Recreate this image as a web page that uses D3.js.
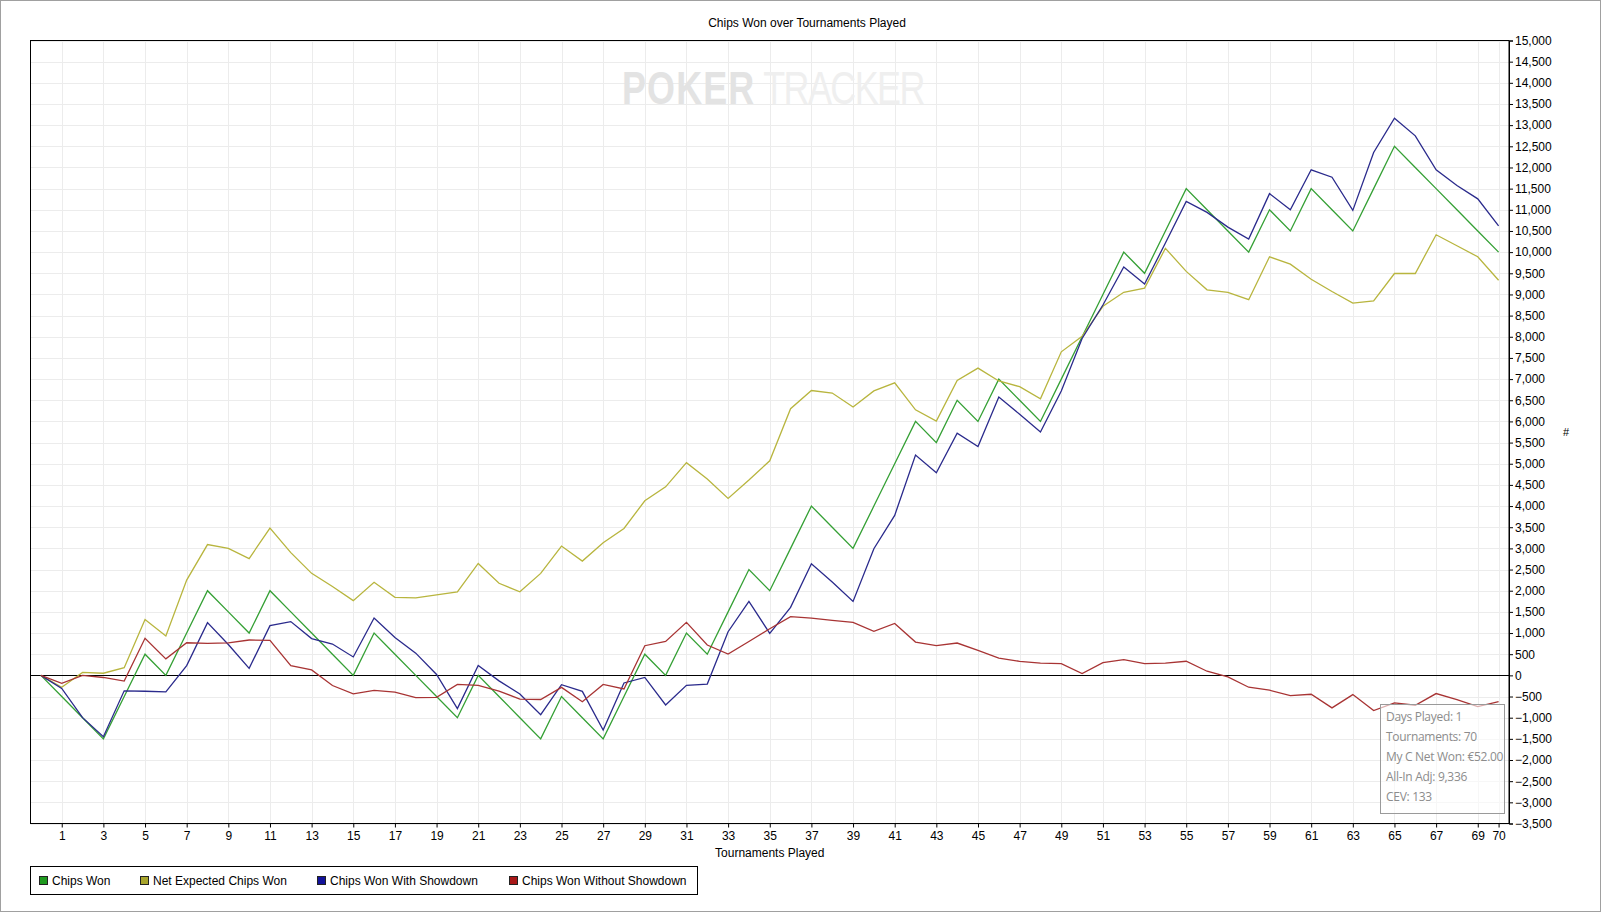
<!DOCTYPE html>
<html>
<head>
<meta charset="utf-8">
<script src="https://cdn.jsdelivr.net/npm/d3@7"></script>
<style>
  html, body { margin: 0; padding: 0; background: #fff; }
  svg { display: block; font-family: "Liberation Sans", Arial, sans-serif; }
</style>
</head>
<body>
<svg id="chart" width="1602" height="914"></svg>
<script>
// ---------- DATA ----------
const tournaments = d3.range(0, 71);
const chipsWon = [0,-500,-1000,-1500,-500,500,0,1000,2000,1500,1000,2000,1500,1000,500,0,1000,500,0,-500,-1000,0,-500,-1000,-1500,-500,-1000,-1500,-500,500,0,1000,500,1500,2500,2000,3000,4000,3500,3000,4000,5000,6000,5500,6500,6000,7000,6500,6000,7000,8000,9000,10000,9500,10500,11500,11000,10500,10000,11000,10500,11500,11000,10500,11500,12500,12000,11500,11000,10500,10000];
const netExpected = [0,-280,70,50,180,1320,930,2250,3090,3000,2760,3480,2900,2410,2100,1765,2200,1845,1830,1900,1975,2645,2175,1975,2410,3055,2700,3135,3470,4125,4455,5025,4640,4180,4615,5070,6300,6730,6670,6340,6720,6910,6275,6010,6970,7260,6955,6820,6535,7645,8010,8720,9050,9150,10090,9545,9110,9050,8875,9890,9715,9360,9070,8795,8850,9495,9495,10410,10150,9890,9336];
const wonWithShowdown = [0,-310,-1000,-1450,-365,-375,-390,230,1245,730,165,1175,1270,870,740,435,1354,895,525,20,-785,235,-130,-440,-930,-220,-378,-1291,-180,-50,-700,-236,-205,1031,1748,992,1606,2638,2205,1748,2992,3780,5205,4787,5724,5409,6575,6170,5751,6720,7960,8750,9647,9246,10214,11198,10938,10591,10308,11382,11000,11945,11771,10986,12355,13165,12748,11945,11574,11259,10620];
const wonWithoutShowdown = [0,-190,0,-50,-135,875,390,770,755,770,835,825,230,130,-240,-435,-354,-395,-525,-520,-215,-235,-370,-560,-570,-283,-622,-213,-320,700,800,1252,717,504,800,1100,1386,1354,1299,1252,1039,1228,787,701,764,591,409,331,287,279,43,300,373,279,287,334,98,-37,-280,-351,-477,-446,-768,-454,-831,-650,-706,-430,-572,-737,-620];

const seriesNames = ["Chips Won", "Net Expected Chips Won", "Chips Won With Showdown", "Chips Won Without Showdown"];
const lineColors = ["#35a035", "#b8b53e", "#2a2a8c", "#a83434"];
const legendColors = ["#1f9a1f", "#a8a52c", "#12129a", "#a81818"];
const xTickValues = d3.range(1, 70, 2).concat([70]);
const yTickValues = d3.range(-3500, 15001, 500);
const tooltipLines = ["Days Played: 1", "Tournaments: 70", "My C Net Won: €52.00", "All-In Adj: 9,336", "CEV: 133"];

// ---------- LAYOUT ----------
const svg = d3.select("#chart");
const pLeft = 30.5, pRight = 1509, pTop = 40.5, pBottom = 823.5;

const x = d3.scaleLinear().domain([-0.5, 70.5]).range([pLeft, pRight]);
const y = d3.scaleLinear().domain([-3500, 15000]).range([pBottom, pTop]);

// outer frame
svg.append("rect").attr("x", 0.5).attr("y", 0.5).attr("width", 1600).attr("height", 911)
  .attr("fill", "#fff").attr("stroke", "#a0a0a0");

// title
svg.append("text").attr("x", 807).attr("y", 26.5).attr("text-anchor", "middle")
  .attr("font-size", 12).attr("fill", "#000").text("Chips Won over Tournaments Played");

// grid
const grid = svg.append("g");
grid.selectAll("line.h").data(yTickValues).join("line")
  .attr("x1", pLeft).attr("x2", pRight)
  .attr("y1", d => Math.round(y(d)) + 0.5).attr("y2", d => Math.round(y(d)) + 0.5)
  .attr("stroke", "#ececec").attr("stroke-width", 1);
grid.selectAll("line.v").data(xTickValues).join("line")
  .attr("y1", pTop).attr("y2", pBottom)
  .attr("x1", d => Math.round(x(d)) + 0.5).attr("x2", d => Math.round(x(d)) + 0.5)
  .attr("stroke", "#ececec").attr("stroke-width", 1);

// watermark (single text, horizontally condensed)
const wm = svg.append("text").attr("transform", "translate(622,104) scale(0.78,1)")
  .attr("font-size", 46);
wm.append("tspan").attr("font-weight", "bold").attr("fill", "#e3e3e3")
  .attr("letter-spacing", 1.5).text("POKER");
wm.append("tspan").attr("dx", 10).attr("font-weight", "normal").attr("fill", "#efefef")
  .attr("letter-spacing", -2).text("TRACKER");

// zero line
svg.append("line").attr("x1", pLeft).attr("x2", pRight)
  .attr("y1", Math.round(y(0)) + 0.5).attr("y2", Math.round(y(0)) + 0.5)
  .attr("stroke", "#000").attr("stroke-width", 1);

// lines
const allSeries = [chipsWon, netExpected, wonWithShowdown, wonWithoutShowdown];
const lineGen = d3.line().x((d, i) => x(tournaments[i])).y(d => y(d));
svg.append("g").selectAll("path").data(allSeries).join("path")
  .attr("d", d => lineGen(d)).attr("fill", "none")
  .attr("stroke", (d, i) => lineColors[i]).attr("stroke-width", 1.3)
  .attr("stroke-linejoin", "miter");

// plot frame
svg.append("rect").attr("x", pLeft).attr("y", pTop).attr("width", pRight - pLeft).attr("height", pBottom - pTop)
  .attr("fill", "none").attr("stroke", "#000").attr("stroke-width", 1);

// axes
const yAxis = svg.append("g").attr("transform", `translate(${pRight},0)`)
  .call(d3.axisRight(y).tickValues(yTickValues).tickFormat(d3.format(",")).tickSize(4).tickPadding(2));
yAxis.select(".domain").attr("stroke", "#000");
yAxis.selectAll("text").attr("font-size", 12).attr("font-family", "Liberation Sans, Arial, sans-serif").attr("fill", "#000");

const xAxis = svg.append("g").attr("transform", `translate(0,${pBottom})`)
  .call(d3.axisBottom(x).tickValues(xTickValues).tickFormat(d3.format("d")).tickSize(4).tickPadding(4));
xAxis.select(".domain").remove();
xAxis.selectAll("text").attr("font-size", 12).attr("font-family", "Liberation Sans, Arial, sans-serif").attr("fill", "#000");

// axis titles
svg.append("text").attr("x", (pLeft + pRight) / 2).attr("y", 857).attr("text-anchor", "middle")
  .attr("font-size", 12).text("Tournaments Played");
svg.append("text").attr("x", 1566).attr("y", 436).attr("text-anchor", "middle")
  .attr("font-size", 11).text("#");

// tooltip box
const tip = svg.append("g");
tip.append("rect").attr("x", 1380.5).attr("y", 704.5).attr("width", 124).attr("height", 109)
  .attr("fill", "#fff").attr("fill-opacity", 0.6).attr("stroke", "#9a9a9a");
tip.selectAll("text").data(tooltipLines).join("text")
  .attr("x", 1386).attr("y", (d, i) => 721 + i * 20)
  .attr("font-size", 12).attr("font-family", "Open Sans, Noto Sans, sans-serif").attr("fill", "#8c8c8c")
  .attr("letter-spacing", -0.3).text(d => d);

// legend
const lg = svg.append("g");
lg.append("rect").attr("x", 30.5).attr("y", 866.5).attr("width", 667).attr("height", 28)
  .attr("fill", "#fff").attr("stroke", "#000");
const legendX = [39, 140, 317, 509];
const items = lg.selectAll("g.item").data(seriesNames).join("g")
  .attr("transform", (d, i) => `translate(${legendX[i]},0)`);
items.append("rect").attr("x", 0.5).attr("y", 876.5).attr("width", 8).attr("height", 8)
  .attr("fill", (d, i) => legendColors[i]).attr("stroke", "#222");
items.append("text").attr("x", 13).attr("y", 885).attr("font-size", 12).text(d => d);
</script>
</body>
</html>
